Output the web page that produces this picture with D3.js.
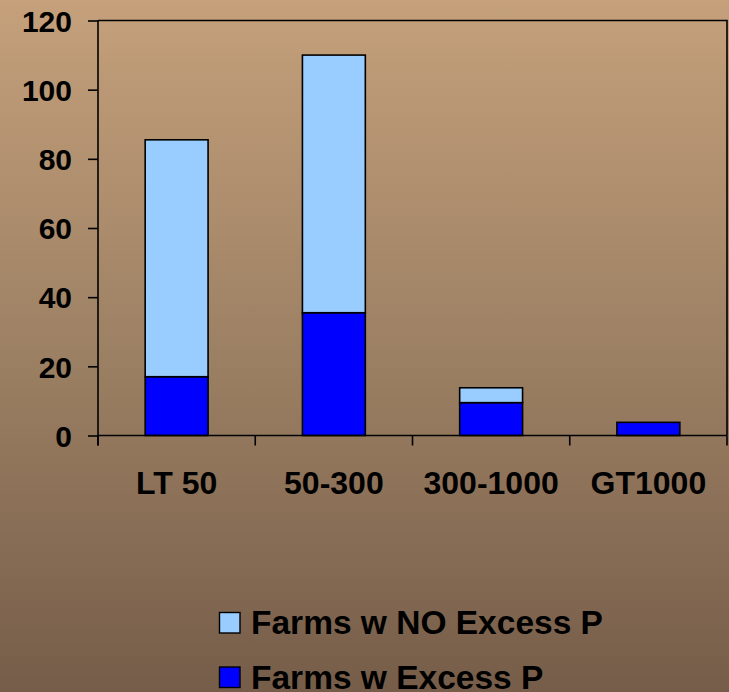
<!DOCTYPE html>
<html>
<head>
<meta charset="utf-8">
<script src="https://cdn.jsdelivr.net/npm/d3@7"></script>
<style>
  html, body { margin: 0; padding: 0; }
  body { width: 729px; height: 692px; overflow: hidden; }
  svg { display: block; font-family: "Liberation Sans", Arial, sans-serif; font-weight: bold; }
</style>
</head>
<body>
<svg id="chart" width="729" height="692"></svg>
<script>
// Farm size classes and farm counts per class
const categories = ["LT 50", "50-300", "300-1000", "GT1000"];
const excessP    = [17, 35.5, 9.5, 3.8];
const noExcessP  = [68.5, 74.5, 4.3, 0];
const yTicks     = [0, 20, 40, 60, 80, 100, 120];
const seriesNames  = ["Farms w NO Excess P", "Farms w Excess P"];
const seriesColors = ["#99ccff", "#0000ff"];

const W = 729, H = 692;
const plot = { left: 98, right: 727, top: 20.5, bottom: 435.5 };

const svg = d3.select("#chart");

// Background: warm brown vertical gradient
const defs = svg.append("defs");
const grad = defs.append("linearGradient").attr("id", "bg")
  .attr("x1", 0).attr("y1", 0).attr("x2", 0).attr("y2", 1);
grad.append("stop").attr("offset", "0%").attr("stop-color", "#c5a07b");
grad.append("stop").attr("offset", "50%").attr("stop-color", "#9d8164");
grad.append("stop").attr("offset", "100%").attr("stop-color", "#765d49");
svg.append("rect").attr("width", W).attr("height", H).attr("fill", "url(#bg)");

const x = d3.scaleBand().domain(categories)
  .range([plot.left, plot.right]).paddingInner(0.6).paddingOuter(0.3);
const y = d3.scaleLinear().domain([0, 120]).range([plot.bottom, plot.top]);

// Stacked data: excess at the bottom, no-excess on top
const rows = categories.map((c, i) => ({ cat: c, excess: excessP[i], noExcess: noExcessP[i] }));
const stack = d3.stack().keys(["excess", "noExcess"])(rows);
const colorByKey = { excess: seriesColors[1], noExcess: seriesColors[0] };

svg.append("g").selectAll("g").data(stack).join("g")
  .attr("fill", d => colorByKey[d.key])
  .selectAll("rect").data(d => d.filter(s => s[1] - s[0] > 0)).join("rect")
  .attr("x", d => x(d.data.cat))
  .attr("width", x.bandwidth())
  .attr("y", d => y(d[1]))
  .attr("height", d => y(d[0]) - y(d[1]))
  .attr("stroke", "#000").attr("stroke-width", 1.6);

// Plot frame (top and right edges)
svg.append("path")
  .attr("d", `M${plot.left},${y(120)}H${plot.right}V${plot.bottom}`)
  .attr("fill", "none").attr("stroke", "#000").attr("stroke-width", 1.6);

// Y axis
const yAxis = svg.append("g").attr("transform", `translate(${plot.left},0)`)
  .call(d3.axisLeft(y).tickValues(yTicks).tickSize(10).tickPadding(16).tickSizeOuter(0));
yAxis.select(".domain").attr("stroke", "#000").attr("stroke-width", 1.6)
  .attr("d", `M0,${y(120)}V${plot.bottom + 10}`);
yAxis.selectAll(".tick line").attr("stroke", "#000").attr("stroke-width", 1.6);
yAxis.selectAll(".tick text").attr("fill", "#000")
  .style("font-size", "30px").style("font-weight", "bold")
  .attr("dy", "0.36em");

// X axis: baseline with ticks at category boundaries
const xAxis = svg.append("g");
xAxis.append("line")
  .attr("x1", plot.left).attr("x2", plot.right)
  .attr("y1", y(0)).attr("y2", y(0))
  .attr("stroke", "#000").attr("stroke-width", 1.6);
const bounds = d3.range(categories.length + 1).map(i => x.range()[0] + i * x.step());
xAxis.selectAll("line.tk").data(bounds).join("line").attr("class", "tk")
  .attr("x1", d => d).attr("x2", d => d)
  .attr("y1", y(0)).attr("y2", y(0) + 10)
  .attr("stroke", "#000").attr("stroke-width", 1.6);
xAxis.selectAll("text").data(categories).join("text")
  .attr("x", d => x(d) + x.bandwidth() / 2)
  .attr("y", y(0) + 58)
  .attr("text-anchor", "middle")
  .attr("fill", "#000")
  .style("font-size", "32px")
  .text(d => d);

// Legend
const legend = svg.append("g");
const legendRows = seriesNames.map((n, i) => ({ name: n, color: seriesColors[i] }));
const lg = legend.selectAll("g").data(legendRows).join("g")
  .attr("transform", (d, i) => `translate(219.5,${612.5 + i * 54.5})`);
lg.append("rect").attr("width", 20.5).attr("height", 20.5)
  .attr("fill", d => d.color).attr("stroke", "#000").attr("stroke-width", 1.4);
lg.append("text").attr("x", 31.5).attr("y", 21.5)
  .attr("fill", "#000").style("font-size", "33.5px")
  .text(d => d.name);
</script>
</body>
</html>
